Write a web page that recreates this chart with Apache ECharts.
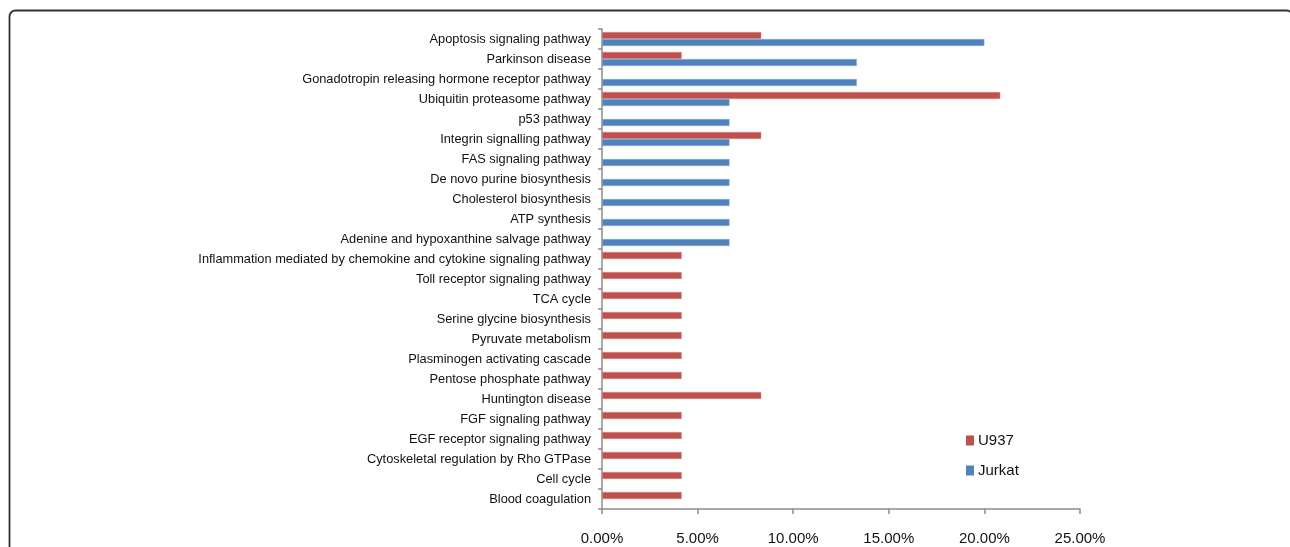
<!DOCTYPE html>
<html>
<head>
<meta charset="utf-8">
<script src="https://cdn.jsdelivr.net/npm/echarts@6/dist/echarts.min.js"></script>
<style>
html,body{margin:0;padding:0;background:#fff;}
#main{width:1290px;height:547px;}
</style>
</head>
<body>
<div id="main"></div>
<script>
const categories = [
  "Apoptosis signaling pathway",
  "Parkinson disease",
  "Gonadotropin releasing hormone receptor pathway",
  "Ubiquitin proteasome pathway",
  "p53 pathway",
  "Integrin signalling pathway",
  "FAS signaling pathway",
  "De novo purine biosynthesis",
  "Cholesterol biosynthesis",
  "ATP synthesis",
  "Adenine and hypoxanthine salvage pathway",
  "Inflammation mediated by chemokine and cytokine signaling pathway",
  "Toll receptor signaling pathway",
  "TCA cycle",
  "Serine glycine biosynthesis",
  "Pyruvate metabolism",
  "Plasminogen activating cascade",
  "Pentose phosphate pathway",
  "Huntington disease",
  "FGF signaling pathway",
  "EGF receptor signaling pathway",
  "Cytoskeletal regulation by Rho GTPase",
  "Cell cycle",
  "Blood coagulation"
];
// percentages
const u937 = [8.33, 4.17, null, 20.83, null, 8.33, null, null, null, null, null,
  4.17, 4.17, 4.17, 4.17, 4.17, 4.17, 4.17, 8.33, 4.17, 4.17, 4.17, 4.17, 4.17];
const jurkat = [20.00, 13.33, 13.33, 6.67, 6.67, 6.67, 6.67, 6.67, 6.67, 6.67, 6.67,
  null, null, null, null, null, null, null, null, null, null, null, null, null];
const seriesNames = ["U937", "Jurkat"];
const xTicks = [0, 5, 10, 15, 20, 25];

const chart = echarts.init(document.getElementById('main'));
const font = "'Liberation Sans', Arial, sans-serif";
chart.setOption({
  animation: false,
  backgroundColor: '#fff',
  graphic: [{
    type: 'rect',
    shape: {x: 9.5, y: 10.5, width: 1283, height: 600, r: 6},
    style: {fill: 'none', stroke: '#333', lineWidth: 1.8},
    silent: true,
    z: -1
  }],
  grid: {left: 602, right: 210, top: 29, bottom: 38, containLabel: false},
  legend: {
    data: seriesNames,
    orient: 'vertical',
    left: 961,
    top: 428,
    itemWidth: 8,
    itemHeight: 10,
    itemGap: 15,
    icon: 'rect',
    itemStyle: {borderWidth: 0},
    textStyle: {fontFamily: font, fontSize: 15, color: '#111', padding: [0, 0, 0, -1]}
  },
  xAxis: {
    type: 'value',
    min: xTicks[0],
    max: xTicks[xTicks.length - 1],
    interval: 5,
    splitLine: {show: false},
    axisLine: {show: true, lineStyle: {color: '#8c8c8c', width: 1.5}},
    axisTick: {show: true, length: 5, lineStyle: {color: '#8c8c8c', width: 1.5}},
    axisLabel: {
      margin: 22,
      fontFamily: font, fontSize: 15, color: '#111',
      formatter: v => v.toFixed(2) + '%'
    }
  },
  yAxis: {
    type: 'category',
    data: categories,
    inverse: true,
    axisLine: {show: true, lineStyle: {color: '#8c8c8c', width: 1.5}},
    axisTick: {show: true, length: 4, lineStyle: {color: '#8c8c8c', width: 1.5}},
    axisLabel: {margin: 11, fontFamily: font, fontSize: 12.8, color: '#111'}
  },
  series: [
    {
      name: seriesNames[0], type: 'bar', data: u937,
      barWidth: 7, barGap: '0%',
      itemStyle: {color: '#C0504D', borderColor: '#dc8f8d', borderWidth: 0.5}
    },
    {
      name: seriesNames[1], type: 'bar', data: jurkat,
      barWidth: 7, barGap: '0%',
      itemStyle: {color: '#4F81BD', borderColor: '#94b5dd', borderWidth: 0.5}
    }
  ]
});
</script>
</body>
</html>
